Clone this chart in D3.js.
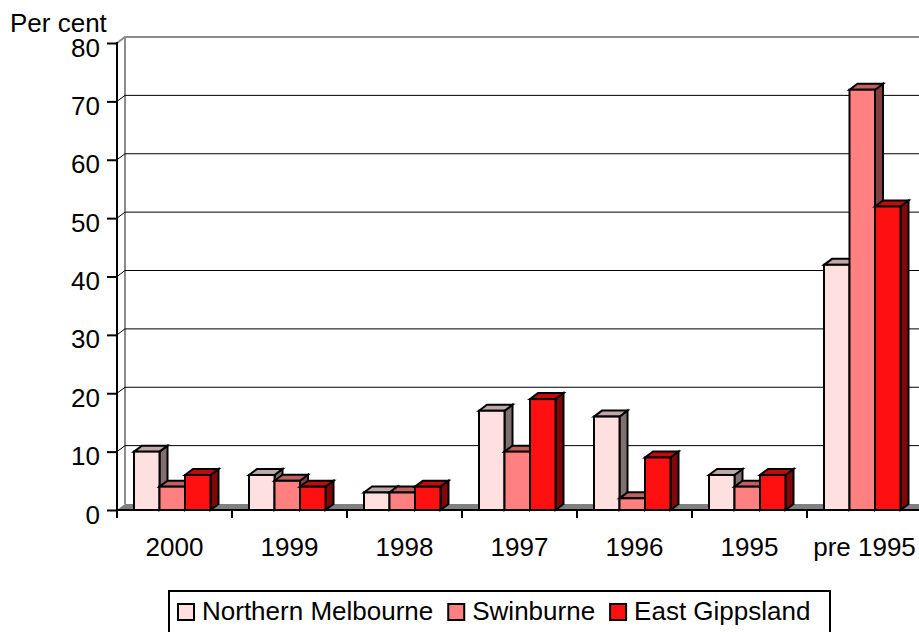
<!DOCTYPE html>
<html>
<head>
<meta charset="utf-8">
<script src="https://cdn.jsdelivr.net/npm/d3@7"></script>
<style>
  body { margin: 0; background: #fff; }
  text { font-family: "Liberation Sans", Arial, sans-serif; fill: #000; }
</style>
</head>
<body>
<div id="chart"></div>
<script>
// categories and series
const years = ["2000", "1999", "1998", "1997", "1996", "1995", "pre 1995"];
const seriesNames = ["Northern Melbourne", "Swinburne", "East Gippsland"];
const northernMelbourne = [10, 6, 3, 17, 16, 6, 42];
const swinburne = [4, 5, 3, 10, 2, 4, 72];
const eastGippsland = [6, 4, 4, 19, 9, 6, 52];
const yTicks = [0, 10, 20, 30, 40, 50, 60, 70, 80];

const seriesValues = [northernMelbourne, swinburne, eastGippsland];
const fronts = ["#ffe0e0", "#ff8080", "#ff1010"];
const tops = ["#c0a8a8", "#c06060", "#c00c0c"];
const sides = ["#807070", "#804040", "#800808"];

const W = 919, H = 632;
const left = 117, y0px = 510, y80px = 43;
const dx = 8, dy = 6; // depth offset of the 3D box

const svg = d3.select("#chart").append("svg")
    .attr("width", W).attr("height", H);

const x = d3.scaleBand().domain(years).range([left, left + 7 * 115]);
const xs = d3.scaleBand().domain(seriesNames).range([17, 17 + 76.5]);
const y = d3.scaleLinear().domain([0, 80]).range([y0px, y80px]);

// floor
svg.append("polygon")
    .attr("points", [[left, y0px], [left + dx, y0px - dy], [W + 20, y0px - dy], [W + 20, y0px]].join(" "))
    .attr("fill", "#808080");

// back wall edges
svg.append("line")
    .attr("x1", left + dx).attr("x2", left + dx)
    .attr("y1", y(80) - dy).attr("y2", y0px - dy)
    .attr("stroke", "#8c8c8c").attr("stroke-width", 2);
svg.append("path")
    .attr("d", `M${left},${y(80)}L${left + dx},${y(80) - dy}H${W}`)
    .attr("fill", "none").attr("stroke", "#8c8c8c").attr("stroke-width", 2);

// gridlines
svg.append("g").selectAll("path")
    .data(yTicks.filter(d => d > 0 && d < 80))
    .join("path")
    .attr("d", d => `M${left},${y(d)}L${left + dx},${y(d) - dy}H${W}`)
    .attr("fill", "none").attr("stroke", "#000").attr("stroke-width", 1);

// bars
const bars = [];
years.forEach((yr, i) => {
    seriesNames.forEach((s, j) => {
        bars.push({ year: yr, series: j, value: seriesValues[j][i] });
    });
});

const bar = svg.append("g").selectAll("g")
    .data(bars)
    .join("g")
    .attr("stroke", "#000").attr("stroke-width", 2).attr("stroke-linejoin", "miter");

bar.each(function(d) {
    const g = d3.select(this);
    const x0 = x(d.year) + xs(seriesNames[d.series]);
    const x1 = x0 + xs.bandwidth();
    const yt = y(d.value);
    g.append("polygon")
        .attr("points", [[x1, yt], [x1 + dx, yt - dy], [x1 + dx, y0px - dy], [x1, y0px]].join(" "))
        .attr("fill", sides[d.series]);
    g.append("polygon")
        .attr("points", [[x0, yt], [x0 + dx, yt - dy], [x1 + dx, yt - dy], [x1, yt]].join(" "))
        .attr("fill", tops[d.series]);
    g.append("rect")
        .attr("x", x0).attr("y", yt)
        .attr("width", x1 - x0).attr("height", y0px - yt)
        .attr("fill", fronts[d.series]);
});

// y axis
const yAxis = svg.append("g")
    .attr("transform", `translate(${left},0)`)
    .call(d3.axisLeft(y).tickValues(yTicks).tickSize(10).tickSizeOuter(0).tickPadding(7));
yAxis.select(".domain").remove();
yAxis.selectAll(".tick line").attr("stroke", "#000").attr("stroke-width", 2);
yAxis.selectAll(".tick text")
    .attr("dy", "0.5em")
    .style("font-size", "26px")
    .style("font-family", "'Liberation Sans', Arial, sans-serif");

svg.append("line")
    .attr("x1", left).attr("x2", left)
    .attr("y1", y(80) - 1).attr("y2", y0px + 8)
    .attr("stroke", "#000").attr("stroke-width", 2);

// x axis
svg.append("line")
    .attr("x1", left).attr("x2", W)
    .attr("y1", y0px).attr("y2", y0px)
    .attr("stroke", "#000").attr("stroke-width", 2);

svg.append("g").selectAll("line")
    .data(years)
    .join("line")
    .attr("x1", d => x(d) + x.bandwidth()).attr("x2", d => x(d) + x.bandwidth())
    .attr("y1", y0px).attr("y2", y0px + 8)
    .attr("stroke", "#000").attr("stroke-width", 2);

const xAxis = svg.append("g")
    .attr("transform", `translate(0,${y0px})`)
    .call(d3.axisBottom(x).tickSize(0).tickPadding(27.5));
xAxis.select(".domain").remove();
xAxis.selectAll(".tick text")
    .style("font-size", "26px")
    .style("font-family", "'Liberation Sans', Arial, sans-serif");

// y axis title
svg.append("text")
    .attr("x", 10).attr("y", 32)
    .style("font-size", "26px")
    .text("Per cent");

// legend
const legend = svg.append("g");
legend.append("rect")
    .attr("x", 169).attr("y", 591)
    .attr("width", 661).attr("height", 60)
    .attr("fill", "#fff").attr("stroke", "#000").attr("stroke-width", 2);

let lx = 178;
seriesNames.forEach((s, j) => {
    legend.append("rect")
        .attr("x", lx).attr("y", 604)
        .attr("width", 16).attr("height", 16)
        .attr("fill", fronts[j]).attr("stroke", "#000").attr("stroke-width", 2);
    const t = legend.append("text")
        .attr("x", lx + 24).attr("y", 620)
        .style("font-size", "26px")
        .text(s);
    lx = lx + 24 + t.node().getComputedTextLength() + 15;
});
</script>
</body>
</html>
